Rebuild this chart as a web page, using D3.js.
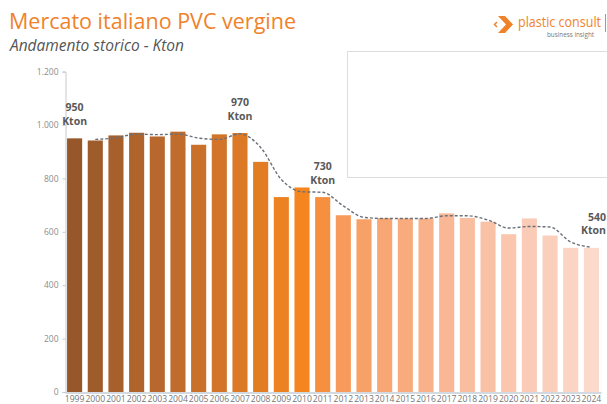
<!DOCTYPE html>
<html>
<head>
<meta charset="utf-8">
<script src="https://cdn.jsdelivr.net/npm/d3@7"></script>
<style>
    body { margin: 0; background: #fff; }
    .chart-area { width: 607px; height: 404px; overflow: hidden; }
    text { font-family: "Open Sans", "Noto Sans", sans-serif; }
</style>
</head>
<body>
<div class="chart-area"></div>
<script>

// data
const years = ["1999", "2000", "2001", "2002", "2003", "2004", "2005", "2006", "2007", "2008",
    "2009", "2010", "2011", "2012", "2013", "2014", "2015", "2016", "2017", "2018",
    "2019", "2020", "2021", "2022", "2023", "2024"];
const consumption = [950, 942, 961, 971, 957, 975, 926, 965, 970, 862,
    730, 766, 730, 662, 647, 651, 650, 650, 669, 652,
    638, 591, 650, 586, 540, 540];
// dashed trend line, starts in 2000
const trendYears = years.slice(1);
const trendValues = [946, 952, 966, 964, 966, 951, 946, 967, 916,
    796, 750, 748, 697, 654, 650, 650, 650, 660, 660,
    644, 614, 620, 618, 562, 542];
const yTicks = [0, 200, 400, 600, 800, 1000, 1200];
const callouts = [
    {year: "1999", label: "950"},
    {year: "2007", label: "970"},
    {year: "2011", label: "730"},
    {year: "2024", label: "540"}
];

class BarVis {

    constructor(_parentElement) {
        this.parentElement = _parentElement;
        this.initVis();
    }

    initVis() {
        let vis = this;

        vis.width = 607;
        vis.height = 404;

        vis.svg = d3.select("." + vis.parentElement).append("svg")
            .attr("width", vis.width)
            .attr("height", vis.height);

        // title block
        vis.svg.append("text")
            .attr("x", 9)
            .attr("y", 29)
            .style("font-size", "21.5px")
            .style("fill", "#f0822a")
            .text("Mercato italiano PVC vergine");

        vis.svg.append("text")
            .attr("x", 10)
            .attr("y", 51)
            .style("font-size", "15.5px")
            .style("font-style", "italic")
            .style("fill", "#555")
            .text("Andamento storico - Kton");

        // logo
        let logo = vis.svg.append("g").attr("class", "logo");
        logo.append("path")
            .attr("d", "M498,16 L505,16 L513,24.5 L505,33 L498,33 L506,24.5 Z")
            .attr("fill", "#f0822a");
        logo.append("path")
            .attr("d", "M497,22 L494.5,24.5 L497,27")
            .attr("fill", "none")
            .attr("stroke", "#f0822a")
            .attr("stroke-width", 1.5);
        logo.append("text")
            .attr("x", 518)
            .attr("y", 27)
            .attr("textLength", 83)
            .attr("lengthAdjust", "spacingAndGlyphs")
            .style("font-size", "14.5px")
            .style("fill", "#f0822a")
            .text("plastic consult");
        logo.append("text")
            .attr("x", 547)
            .attr("y", 37)
            .attr("textLength", 47)
            .attr("lengthAdjust", "spacingAndGlyphs")
            .style("font-size", "6.5px")
            .style("fill", "#777")
            .text("business insight");
        logo.append("line")
            .attr("x1", 605.5).attr("x2", 605.5)
            .attr("y1", 14).attr("y2", 32)
            .attr("stroke", "#999");

        // empty framed box at top right
        vis.svg.append("rect")
            .attr("x", 347.5)
            .attr("y", 51.5)
            .attr("width", 270)
            .attr("height", 126)
            .attr("fill", "#fff")
            .attr("stroke", "#ddd");

        // scales
        vis.x = d3.scaleBand()
            .domain(years)
            .range([65, 601])
            .paddingInner(0.27)
            .paddingOuter(0.1);

        vis.y = d3.scaleLinear()
            .domain([0, 1200])
            .range([392, 71.6]);

        vis.color = d3.scaleLinear()
            .domain([0, 5, 11, 13, 19, 25])
            .range(["#96582a", "#c06c2c", "#f5861f", "#f79a5c", "#f9bda0", "#fbd9cb"]);

        vis.updateVis();
    }

    updateVis() {
        let vis = this;

        let locale = d3.formatLocale({decimal: ",", thousands: ".", grouping: [3], currency: ["", "€"]});

        // y axis
        let yAxis = vis.svg.append("g")
            .attr("class", "axis axis--y")
            .attr("transform", "translate(65.5,0)")
            .call(d3.axisLeft(vis.y).tickValues(yTicks).tickFormat(locale.format(",")).tickSize(3).tickPadding(4));
        yAxis.select(".domain").attr("stroke", "#c8c8c8");
        yAxis.selectAll(".tick line").attr("stroke", "#c8c8c8");
        yAxis.selectAll("text")
            .style("font-size", "8.5px")
            .attr("fill", "#8c8c8c");

        // bars
        vis.svg.append("g").attr("class", "bars")
            .selectAll("rect")
            .data(years)
            .join("rect")
            .attr("x", d => vis.x(d))
            .attr("y", (d, i) => vis.y(consumption[i]))
            .attr("width", vis.x.bandwidth())
            .attr("height", (d, i) => vis.y(0) - vis.y(consumption[i]))
            .attr("fill", (d, i) => vis.color(i));

        // x axis
        let xAxis = vis.svg.append("g")
            .attr("class", "axis axis--x")
            .attr("transform", "translate(0,392.5)")
            .call(d3.axisBottom(vis.x).tickSize(0).tickPadding(4));
        xAxis.select(".domain").attr("stroke", "#c5ccd6").attr("stroke-width", 1.5);
        xAxis.selectAll("text")
            .attr("dy", "0.62em")
            .style("font-size", "8.6px")
            .attr("fill", "#777");

        // trend line
        let line = d3.line()
            .x((d, i) => vis.x(trendYears[i]) + vis.x.bandwidth() / 2)
            .y(d => vis.y(d))
            .curve(d3.curveMonotoneX);

        vis.svg.append("path")
            .datum(trendValues)
            .attr("d", line)
            .attr("fill", "none")
            .attr("stroke", "#6b6f78")
            .attr("stroke-width", 1.4)
            .attr("stroke-dasharray", "3,2");

        // value callouts
        let labelX = d => d.year === "2024" ? 606 : vis.x(d.year) + vis.x.bandwidth() / 2;
        let notes = vis.svg.append("g").attr("class", "callouts")
            .selectAll("text")
            .data(callouts)
            .join("text")
            .attr("x", labelX)
            .attr("y", d => vis.y(consumption[years.indexOf(d.year)]) - 27)
            .attr("text-anchor", d => d.year === "2024" ? "end" : "middle")
            .style("font-size", "10.5px")
            .style("font-weight", "bold")
            .attr("fill", "#595959");
        notes.append("tspan").text(d => d.label);
        notes.append("tspan")
            .attr("x", labelX)
            .attr("dy", 13.5)
            .text("Kton");
    }
}

new BarVis("chart-area");

</script>
</body>
</html>
